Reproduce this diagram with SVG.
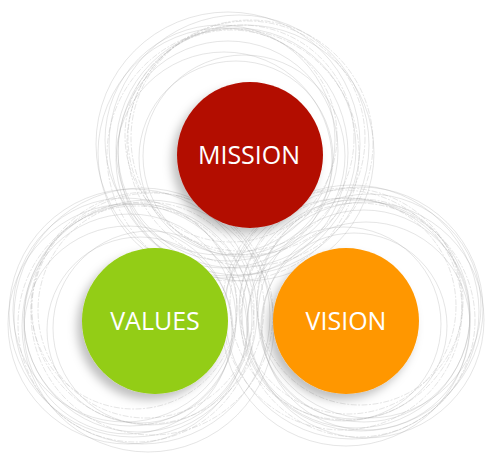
<svg xmlns="http://www.w3.org/2000/svg" width="500" height="464" viewBox="0 0 500 464">
<defs>
<style>
.sk circle{fill:none;stroke:#a8a8a8;stroke-width:0.5;opacity:0.6}
.sk circle:nth-child(3n){stroke-dasharray:6 1.5 2 1.5}
.lbl{font-family:"Open Sans","Noto Sans","Liberation Sans",sans-serif;font-size:25px;fill:#ffffff;text-anchor:middle}
</style>
<filter id="sh" x="-30%" y="-30%" width="160%" height="160%">
<feDropShadow dx="-5" dy="6" stdDeviation="5" flood-color="#000" flood-opacity="0.25"/>
</filter>
</defs>
<rect width="500" height="464" fill="#fff"/>
<g id="sketch-mission" class="sk" transform="translate(236,148)">
<circle cx="-8" cy="-4" r="132"/><circle cx="0" cy="0" r="120"/><circle cx="5" cy="-10" r="113"/>
<circle cx="-13" cy="5" r="125"/><circle cx="10" cy="5" r="128"/><circle cx="-5" cy="-12" r="106"/>
<circle cx="8" cy="8" r="101"/><circle cx="-16" cy="-8" r="115"/><circle cx="14" cy="-5" r="123"/>
<circle cx="0" cy="10" r="97"/><circle cx="-8" cy="3" r="110"/><circle cx="12" cy="-10" r="117"/>
<circle cx="-12" cy="12" r="108"/><circle cx="3" cy="-3" r="130"/><circle cx="-3" cy="7" r="126"/>
</g>
<g id="sketch-values" class="sk" transform="translate(138,318)">
<circle cx="-5" cy="-5" r="124"/><circle cx="0" cy="0" r="114"/><circle cx="8" cy="-8" r="108"/>
<circle cx="-10" cy="6" r="120"/><circle cx="10" cy="8" r="126"/><circle cx="-4" cy="-12" r="103"/>
<circle cx="12" cy="10" r="97"/><circle cx="-13" cy="-8" r="112"/><circle cx="14" cy="-4" r="121"/>
<circle cx="2" cy="12" r="93"/><circle cx="-8" cy="2" r="106"/><circle cx="10" cy="-10" r="116"/>
<circle cx="-10" cy="12" r="104"/><circle cx="4" cy="-2" r="128"/><circle cx="-2" cy="6" r="118"/>
</g>
<g id="sketch-vision" class="sk" transform="translate(356,314)">
<circle cx="5" cy="-5" r="122"/><circle cx="0" cy="0" r="114"/><circle cx="-8" cy="-8" r="108"/>
<circle cx="10" cy="6" r="118"/><circle cx="-10" cy="8" r="124"/><circle cx="4" cy="-12" r="103"/>
<circle cx="-12" cy="10" r="97"/><circle cx="13" cy="-8" r="112"/><circle cx="-14" cy="-4" r="120"/>
<circle cx="-2" cy="12" r="93"/><circle cx="8" cy="2" r="106"/><circle cx="-10" cy="-10" r="116"/>
<circle cx="10" cy="12" r="104"/><circle cx="-4" cy="-2" r="127"/><circle cx="2" cy="6" r="117"/>
</g>
<g id="node-mission">
<circle cx="250" cy="155" r="73" fill="#b30f03" filter="url(#sh)"/>
<text class="lbl" x="249" y="164">MISSION</text>
</g>
<g id="node-values">
<circle cx="155" cy="321" r="73" fill="#93cd12" filter="url(#sh)"/>
<text class="lbl" x="155" y="330">VALUES</text>
</g>
<g id="node-vision">
<circle cx="346" cy="321" r="73" fill="#ff9703" filter="url(#sh)"/>
<text class="lbl" x="346" y="330">VISION</text>
</g>
</svg>
